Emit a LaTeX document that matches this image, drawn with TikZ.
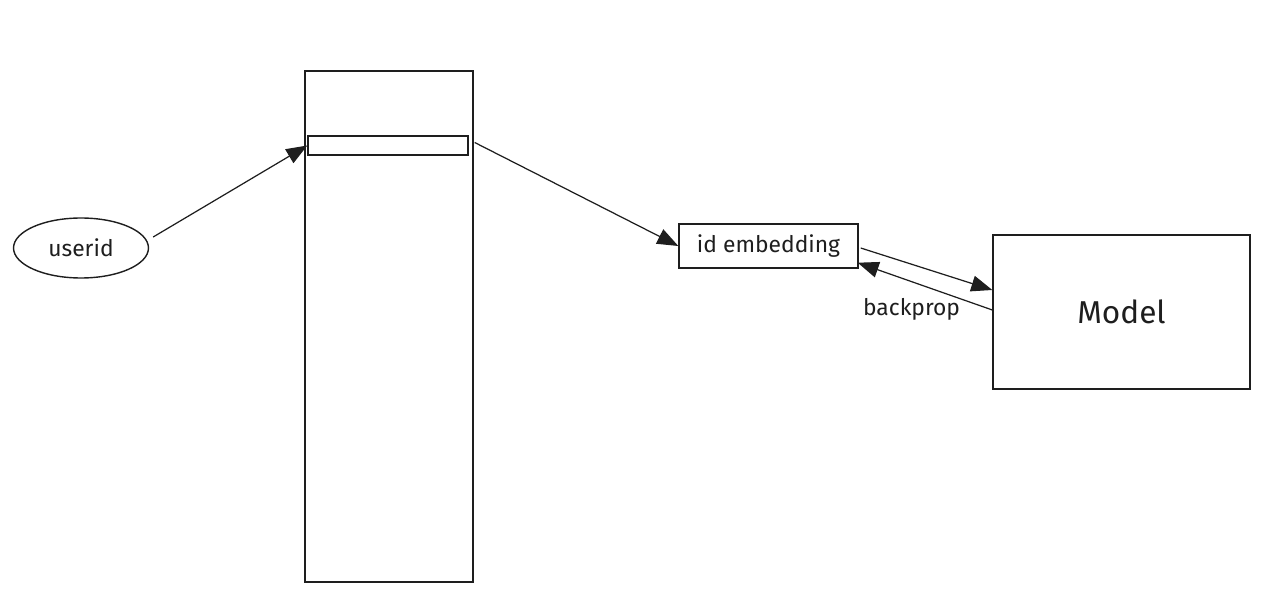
\documentclass[tikz,border=0pt]{standalone}
\usepackage{fontspec}
\setmainfont{Fira Sans}
\usepackage{tikz}
\usetikzlibrary{
  arrows.meta,
  calc,
  positioning,
  shapes.geometric,
}
\tikzstyle{arrow} = [
  -{Triangle[length=0.42cm, width=0.32cm]},
  line width=0.7pt,
  draw=ink,
]
\definecolor{ink}{RGB}{30, 30, 30}

\begin{document}
\begin{tikzpicture}[x=0.02cm, y=-0.02cm,
                    box/.style={draw=ink, line width=0.8pt, inner sep=0pt},
                    label/.style={font=\fontsize{13}{15}\selectfont, text=ink}]
    \useasboundingbox (0,0) rectangle (1268,604);
    \node [box, ellipse, minimum width=2.7cm, minimum height=1.2cm, label]
          (user) at (81,248) {userid};
    \node [box, minimum width=3.36cm, minimum height=10.22cm]
          (table) at (389,326.5) {};
    \node [box, minimum width=3.2cm, minimum height=0.38cm]
          (row) at (388,145.5) {};
    \node [box, minimum width=3.58cm, minimum height=0.88cm, label]
          (emb) at (768.5,246) {id embedding};
    \node [box, minimum width=5.14cm, minimum height=3.08cm,
           font=\fontsize{18}{21}\selectfont, text=ink]
          (model) at (1121.5,312) {Model};
    \draw [arrow] ($(user.east)+(4,-11)$) -- (row.west);
    \draw [arrow] ($(row.east)+(6,-3)$) -- (emb.west);
    \draw [arrow] ($(emb.east)+(2,2)$) -- ($(model.west)+(0,-22)$);
    \draw [arrow] ($(model.west)+(0,-2)$) -- ($(emb.south east)+(-1,-6)$)
          node [label, pos=0.6, below=6pt] (bp) {backprop};
  \end{tikzpicture}
\end{document}
